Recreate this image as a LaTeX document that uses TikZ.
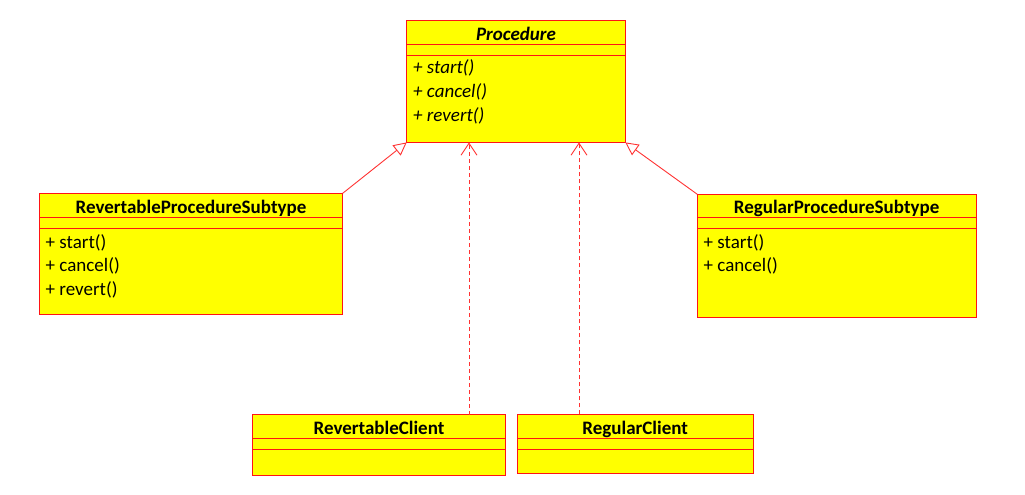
\documentclass[tikz,border=0pt]{standalone}
\usepackage{fontspec}
\setmainfont{Carlito}
\usetikzlibrary{arrows.meta}
\definecolor{boxred}{RGB}{255,20,20}
\definecolor{boxyellow}{RGB}{255,255,0}
\definecolor{linkred}{RGB}{255,50,50}
\tikzset{
  cls/.style={draw=boxred, fill=boxyellow, line width=1pt, anchor=north west, inner sep=0pt, outer sep=0pt},
  sep/.style={draw=boxred, line width=1pt},
  ttl/.style={font=\fontsize{19}{21}\selectfont\bfseries, anchor=base, inner sep=0pt},
  ittl/.style={font=\fontsize{19}{21}\selectfont\bfseries\itshape, anchor=base, inner sep=0pt},
  op/.style={font=\fontsize{19}{21}\selectfont, anchor=base west, inner sep=0pt},
  iop/.style={font=\fontsize{19}{21}\selectfont\itshape, anchor=base west, inner sep=0pt},
  gen/.style={draw=linkred, line width=0.9pt, -{Triangle[open, length=13pt, width=13pt, fill=white]}},
  dep/.style={draw=linkred, line width=1pt, dash pattern=on 4pt off 3pt, -{Straight Barb[length=12pt, width=16pt, line width=0.9pt]}}
}
\begin{document}
\begin{tikzpicture}[x=1pt, y=-1pt]
\useasboundingbox (0,0) rectangle (1025,495);

% Procedure
\node[cls, minimum width=218.6pt, minimum height=121.7pt] (proc) at (406.7,20.7) {};
\draw[sep] (406.7,44.7) -- (625.3,44.7);
\draw[sep] (406.7,55.7) -- (625.3,55.7);
\node[ittl] (procT) at (516,40.2) {Procedure};
\node[iop] (procA) at (413,74) {+ start()};
\node[iop] (procB) at (413,97.5) {+ cancel()};
\node[iop] (procC) at (413,121) {+ revert()};

% RevertableProcedureSubtype
\node[cls, minimum width=303.4pt, minimum height=121pt] (rps) at (39.3,193.3) {};
\draw[sep] (39.3,217.3) -- (342.7,217.3);
\draw[sep] (39.3,228.3) -- (342.7,228.3);
\node[ttl] (rpsT) at (191,213.3) {RevertableProcedureSubtype};
\node[op] (rpsA) at (45.5,248) {+ start()};
\node[op] (rpsB) at (45.5,271.5) {+ cancel()};
\node[op] (rpsC) at (45.5,295) {+ revert()};

% RegularProcedureSubtype
\node[cls, minimum width=278.7pt, minimum height=123.4pt] (regps) at (697.3,194.3) {};
\draw[sep] (697.3,217.5) -- (976,217.5);
\draw[sep] (697.3,228.7) -- (976,228.7);
\node[ttl] (regpsT) at (836.6,213.8) {RegularProcedureSubtype};
\node[op] (regpsA) at (703.5,248) {+ start()};
\node[op] (regpsB) at (703.5,271.5) {+ cancel()};

% RevertableClient
\node[cls, minimum width=252.6pt, minimum height=60.6pt] (rc) at (252.7,414.7) {};
\draw[sep] (252.7,438.3) -- (505.3,438.3);
\draw[sep] (252.7,449.3) -- (505.3,449.3);
\node[ttl] (rcT) at (379,434.5) {RevertableClient};

% RegularClient
\node[cls, minimum width=236.3pt, minimum height=59pt] (regc) at (517,414.3) {};
\draw[sep] (517,438.2) -- (753.3,438.2);
\draw[sep] (517,449) -- (753.3,449);
\node[ttl] (regcT) at (635.2,434.5) {RegularClient};

% connectors
\draw[gen] (rps.north east) -- (proc.south west);
\draw[gen] (regps.north west) -- (proc.south east);
\coordinate (d1) at (469,414.7);
\coordinate (d2) at (579,414.3);
\draw[dep] (d1) -- (d1 |- proc.south);
\draw[dep] (d2) -- (d2 |- proc.south);
\end{tikzpicture}
\end{document}
